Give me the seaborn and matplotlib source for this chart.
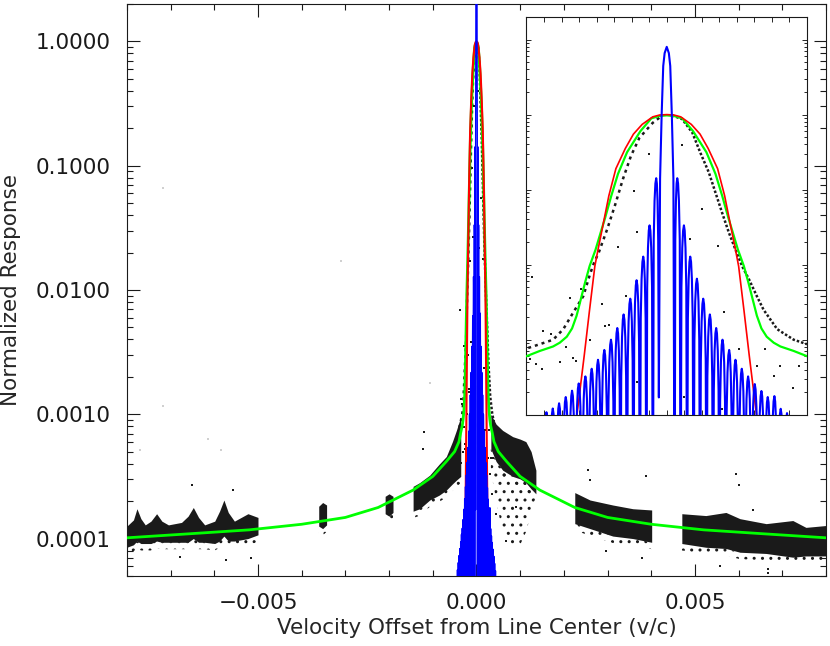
import numpy as np
import matplotlib
matplotlib.use("Agg")
import matplotlib.pyplot as plt
import seaborn as sns
from matplotlib.ticker import LogLocator, NullFormatter, MultipleLocator

# offsets near line centre are read in units of 1e-5 (v/c)
U = 1e-5

# green fit, log10 of normalized response
green_u = [-800, -650, -520, -400, -300, -225, -145, -100, -69, -50,
           -40, -36.2, -32.4, -30.5, -28.5, -27.0, -25.7, -23.3, -22.0, -20.3,
           -18.7, -17.6, -15.8, -13.9, -11.3, -7.5, -4.4, -2.2, 0, 2.2,
           4.4, 7.5, 11.3, 13.9, 15.8, 17.6, 18.7, 20.3, 22.0, 23.3,
           25.7, 27.0, 28.5, 30.5, 32.4, 36.2, 40, 50, 69, 100,
           145, 225, 300, 400, 520, 650, 800]
green_log = [-3.994, -3.96, -3.93, -3.885, -3.83, -3.75, -3.61, -3.50, -3.38, -3.30,
             -3.22, -3.15, -3.09, -3.04, -2.96, -2.85, -2.68, -2.24, -2.02, -1.80,
             -1.55, -1.38, -1.08, -0.79, -0.50, -0.22, -0.05, -0.02, -0.01, -0.02,
             -0.05, -0.22, -0.50, -0.79, -1.08, -1.38, -1.55, -1.80, -2.02, -2.24,
             -2.68, -2.85, -2.96, -3.04, -3.09, -3.15, -3.22, -3.30, -3.38, -3.50,
             -3.61, -3.75, -3.83, -3.885, -3.93, -3.96, -3.994]

# red fit
red_u = [-32, -28, -25.6, -23.5, -22.0, -20.5, -19.6, -18.3, -16.5, -14.5, -11.8, -9.5, -7.0, -4.0, -2.0,
         0, 2.0, 4.0, 7.0, 9.5, 11.8, 14.5, 16.5, 18.3, 19.6, 20.5, 22.0, 23.5, 25.6, 28, 32]
red_log = [-6.5, -5.0, -4.0, -3.2, -2.6, -2.02, -1.8, -1.5, -1.08, -0.72, -0.45, -0.26, -0.13, -0.03, -0.005,
           0.0, -0.005, -0.03, -0.13, -0.26, -0.45, -0.72, -1.08, -1.5, -1.8, -2.02, -2.6, -3.2, -4.0, -5.0, -6.5]

# blue response: central lobe plus side lobes
core_u = [-2.25, -1.9, -1.45, -1.0, -0.6, 0.0, 0.6, 1.0, 1.45, 1.9, 2.25]
core_y = [1.7e-4, 0.14, 1.0, 4.45, 6.6, 8.0, 6.6, 4.45, 1.0, 0.14, 1e-6]
lobe_u = [3.0, 4.9, 6.7, 8.6, 10.4, 12.3, 14.1, 15.9, 17.8, 19.6, 21.4, 23.2,
          25.1, 27.0, 28.8, 30.7, 32.5, 34.3, 36.1, 38.0, 39.8, 41.6, 43.5]
lobe_zero = [2.25, 3.95, 5.8, 7.65, 9.5, 11.35, 13.2, 15.0, 16.85, 18.7, 20.5, 22.3,
             24.15, 26.05, 27.9, 29.75, 31.6, 33.4, 35.2, 37.05, 38.9, 40.7, 42.55, 44.4]
lobe_left = [0.142, 0.0334, 0.0128, 0.0062, 0.00352, 0.00217, 0.00143, 0.00100, 0.00073, 0.00054,
             0.00041, 0.000324, 0.000261, 0.000209, 0.000172, 0.000142, 0.000121, 0.000108,
             0.000094, 0.000083, 0.000073, 0.000064, 0.000056]
lobe_right = [0.142, 0.0334, 0.0128, 0.0065, 0.00352, 0.00217, 0.00143, 0.00100, 0.00073, 0.00054,
              0.00041, 0.000324, 0.000256, 0.000207, 0.000172, 0.000177, 0.000120, 0.000105,
              0.000093, 0.000082, 0.000072, 0.000063, 0.000055]
ZERO = 1e-6
ARCH_F = [-0.75, -0.5, -0.25, 0.0, 0.25, 0.5, 0.75]
ARCH_G = [0.15, 0.5, 0.85, 1.0, 0.85, 0.5, 0.15]

# measured points: two tracks close to the core, log10
trackL_u = [-39.5, -36.2, -32.4, -29.5, -26.7, -23.8, -21.9, -20.7, -19.4, -17.0, -14.7, -12.5, -10.2, -7.8, -4.0, -1.5]
trackL_log = [-3.11, -3.06, -3.0, -2.86, -2.64, -2.42, -2.13, -1.97, -1.84, -1.53, -1.20, -0.86, -0.55, -0.31, -0.11, -0.02]
trackR_u = [1.5, 4.4, 7.3, 9.6, 12.0, 13.9, 15.8, 17.7, 19.6, 21.5, 23.5, 25.7, 27.6, 31.5, 36.2, 40]
trackR_log = [-0.01, -0.06, -0.24, -0.51, -0.77, -1.04, -1.31, -1.57, -1.80, -2.02, -2.2, -2.42, -2.6, -2.86, -3.0, -3.06]

core_pts_u = [-5.0, 4.3, 10.0, -9.4, -8.4, 6.7, 14.6, -13.8, -38.4, 16.2, -11.7, -18.5, -17.7, -16.4,
              -35.3, -28.6, -30.5, -37.2, -39.1, -35.5, -21.9, -26.7, -25.8, 28.1, 30.5, 32.4, 37.7,
              36.1, 20.5, 25.8, -8.6, -2.3, 4.8, 15.7, -24.5, -27.5, -33.0]
core_pts_log = [-0.52, -0.40, -1.26, -1.02, -1.57, -1.66, -1.75, -1.77, -2.16, -2.63, -2.42, -2.52, -2.82, -2.8,
                -2.88, -3.1, -3.3, -3.33, -3.26, -3.39, -3.0, -3.24, -3.28, -3.13, -3.48, -3.35, -3.35,
                -3.64, -3.13, -3.35, -3.57, -3.75, -3.77, -3.93, -2.33, -2.45, -2.92]

# dense clouds in the wings: (x in v/c, log10 upper, log10 lower)
cloudA_x = [-0.00800, -0.00785, -0.00777, -0.00768, -0.00758, -0.00745, -0.00732, -0.00720, -0.00705, -0.00675, -0.00660,
            -0.00648, -0.00636, -0.00622, -0.00599, -0.00588, -0.00578, -0.00568, -0.00554, -0.00523, -0.00500]
cloudA_hi = [-3.90, -3.85, -3.76, -3.84, -3.89, -3.86, -3.80, -3.86, -3.89, -3.87, -3.82,
             -3.75, -3.83, -3.89, -3.86, -3.78, -3.69, -3.79, -3.86, -3.80, -3.83]
cloudA_lo = [-4.07, -4.05, -4.02, -4.04, -4.04, -4.04, -4.02, -4.03, -4.03, -4.03, -4.03,
             -4.00, -4.03, -4.03, -4.04, -4.02, -3.98, -4.02, -4.02, -4.00, -3.97]
cloudB_x = [-0.00361, -0.00352, -0.00343]
cloudB_hi = [-3.74, -3.71, -3.73]
cloudB_lo = [-3.90, -3.92, -3.89]
cloudC_x = [-0.00209, -0.00200, -0.00191]
cloudC_hi = [-3.66, -3.64, -3.66]
cloudC_lo = [-3.80, -3.82, -3.79]
cloudD_x = [-0.00145, -0.00130, -0.00107, -0.00085, -0.00069, -0.00055, -0.00046, -0.00036]
cloudD_hi = [-3.58, -3.55, -3.49, -3.40, -3.34, -3.22, -3.13, -3.02]
cloudD_lo = [-3.78, -3.76, -3.69, -3.65, -3.61, -3.56, -3.53, -3.50]
cloudE_x = [0.00033, 0.00045, 0.00060, 0.00083, 0.00100, 0.00113, 0.00125, 0.00136]
cloudE_hi = [-3.00, -3.08, -3.13, -3.18, -3.20, -3.22, -3.30, -3.45]
cloudE_lo = [-3.28, -3.38, -3.45, -3.50, -3.52, -3.55, -3.60, -3.64]
sparseE_lo = [-3.45, -3.70, -3.95, -4.07, -4.05, -3.95, -3.80, -3.66]
cloudF_x = [0.00225, 0.00260, 0.00312, 0.00358, 0.00401]
cloudF_hi = [-3.63, -3.69, -3.73, -3.76, -3.77]
cloudF_lo = [-3.88, -3.92, -3.98, -4.00, -4.03]
cloudG_x = [0.00470, 0.00525, 0.00571, 0.00603, 0.00663, 0.00724, 0.00754, 0.00800]
cloudG_hi = [-3.80, -3.815, -3.79, -3.84, -3.88, -3.855, -3.91, -3.895]
cloudG_lo = [-4.04, -4.07, -4.08, -4.11, -4.12, -4.15, -4.14, -4.14]

stray_x = [0.00255, 0.00259, 0.00388, 0.00593, 0.00601, 0.00632, 0.00297, 0.00380, 0.00557, 0.00667, 0.00667,
           -0.00119, -0.00122, 0.00068, -0.00652, -0.00557, -0.00515, -0.00573, -0.00679, 0.00045, 0.00090, 0.00115]
stray_log = [-3.45, -3.53, -3.50, -3.48, -3.57, -3.77, -4.10, -4.16, -4.22, -4.245, -4.28,
             -3.14, -3.28, -4.02, -3.57, -3.61, -4.16, -4.17, -4.15, -3.80, -3.75, -3.35]
faint_x = [-0.00717, -0.0031, -0.00717, -0.0077, -0.00614, -0.00584, -0.00107, 0.0016]
faint_log = [-1.18, -1.77, -2.93, -3.29, -3.2, -3.29, -2.75, -2.1]


def lobe_train(heights):
    xs, ys = [], []
    for i, (p, h) in enumerate(zip(lobe_u, heights)):
        z0, z1 = lobe_zero[i], lobe_zero[i + 1]
        for f, g in zip(ARCH_F, ARCH_G):
            xs.append(p + f * ((p - z0) if f < 0 else (z1 - p)))
            ys.append(g * h)
        xs.append(z1)
        ys.append(ZERO)
    return xs, ys


lx, ly = lobe_train(lobe_left)
rx, ry = lobe_train(lobe_right)
blue_u = [-x for x in reversed(lx)] + core_u + rx
blue_y = list(reversed(ly)) + core_y + ry
blue_x = np.array(blue_u) * U

sns.set_theme(style="ticks")
plt.rcParams["font.family"] = ["DejaVu Sans"]
plt.rcParams["axes.linewidth"] = 0.8
plt.rcParams["hatch.linewidth"] = 1.0

GREEN = "#00ff00"
RED = "#ff0000"
BLUE = "#0000ff"

fig = plt.figure(figsize=(8.3, 6.46), dpi=100)
ax = fig.add_axes([0.1529, 0.1084, 0.8423, 0.8854])
ax.set_yscale("log")


def draw_curves(a, lw_scale, blue_lw):
    sns.lineplot(x=np.array(green_u) * U, y=10 ** np.array(green_log), ax=a, color=GREEN,
                 lw=2.0 * lw_scale, sort=False, estimator=None, zorder=3)
    sns.lineplot(x=np.array(red_u) * U, y=10 ** np.array(red_log), ax=a, color=RED,
                 lw=1.5 * lw_scale, sort=False, estimator=None, zorder=4)
    sns.lineplot(x=blue_x, y=blue_y, ax=a, color=BLUE, lw=blue_lw,
                 sort=False, estimator=None, zorder=5)


def draw_tracks(a, size):
    sns.lineplot(x=np.array(trackL_u) * U, y=10 ** np.array(trackL_log), ax=a, color="k",
                 lw=1.8, linestyle=(0, (1.2, 1.6)), sort=False, estimator=None, zorder=2)
    sns.lineplot(x=np.array(trackR_u) * U, y=10 ** np.array(trackR_log), ax=a, color="k",
                 lw=1.8, linestyle=(0, (1.0, 0.8)), sort=False, estimator=None, zorder=2)
    sns.scatterplot(x=np.array(core_pts_u) * U, y=10 ** np.array(core_pts_log), ax=a, color="k",
                    s=size, marker="s", linewidth=0, zorder=2)


# wing clouds
for cx, hi, lo in [(cloudA_x, cloudA_hi, cloudA_lo), (cloudB_x, cloudB_hi, cloudB_lo),
                   (cloudC_x, cloudC_hi, cloudC_lo), (cloudD_x, cloudD_hi, cloudD_lo),
                   (cloudE_x, cloudE_hi, cloudE_lo), (cloudF_x, cloudF_hi, cloudF_lo),
                   (cloudG_x, cloudG_hi, cloudG_lo)]:
    hi_v = 10 ** np.array(hi)
    lo_v = 10 ** np.array(lo)
    ax.fill_between(cx, lo_v, hi_v, color="k", lw=0, zorder=1)
    ax.fill_between(cx, lo_v * 0.88, lo_v, facecolor="none", edgecolor="k", hatch="..", lw=0, zorder=1)
ax.fill_between(cloudE_x, 10 ** np.array(sparseE_lo), 10 ** np.array(cloudE_lo), facecolor="none",
                edgecolor="k", hatch="..", lw=0, zorder=1)

sns.scatterplot(x=stray_x, y=10 ** np.array(stray_log), ax=ax, color="k", s=2.5, marker="s", linewidth=0, zorder=1)
sns.scatterplot(x=faint_x, y=10 ** np.array(faint_log), ax=ax, color="#d0d0d0", s=3, marker="s", linewidth=0, zorder=1)

draw_tracks(ax, 2.5)
draw_curves(ax, 1.0, 1.0)

ax.set_xlim(-0.008, 0.008)
ax.set_ylim(5e-5, 2.0)
ax.set_yticks([1e-4, 1e-3, 1e-2, 1e-1, 1.0])
ax.set_yticklabels(["0.0001", "0.0010", "0.0100", "0.1000", "1.0000"])
ax.yaxis.set_minor_locator(LogLocator(base=10, subs=range(2, 10)))
ax.yaxis.set_minor_formatter(NullFormatter())
ax.set_xticks([-0.005, 0.0, 0.005])
ax.set_xticklabels(["\u22120.005", "0.000", "0.005"])
ax.xaxis.set_minor_locator(MultipleLocator(0.001))
ax.tick_params(which="both", direction="in", top=True, right=True, colors="k", labelsize=15.5)
ax.tick_params(which="major", length=9, width=0.8, pad=12)
ax.tick_params(which="minor", length=4.5, width=0.8)
ax.set_xlabel("Velocity Offset from Line Center (v/c)", fontsize=15.5, labelpad=4)
ax.set_ylabel("Normalized Response", fontsize=15.5, labelpad=10)
for s in ax.spines.values():
    s.set_color("k")

# inset: zoom on the line core
axi = fig.add_axes([0.6343, 0.358, 0.338, 0.6157])
axi.set_facecolor("white")
axi.set_yscale("log")
draw_tracks(axi, 4)
draw_curves(axi, 0.8, 1.5)
axi.set_xlim(-40 * U, 40 * U)
axi.set_ylim(1e-4, 20)
axi.xaxis.set_major_locator(MultipleLocator(5 * U))
axi.yaxis.set_major_locator(LogLocator(base=10))
axi.yaxis.set_minor_locator(LogLocator(base=10, subs=range(2, 10)))
axi.tick_params(which="both", direction="in", top=True, right=True, labelleft=False, labelbottom=False)
axi.tick_params(which="major", length=3.5, width=0.7)
axi.tick_params(which="minor", length=2.2, width=0.7)
axi.set_xlabel("")
axi.set_ylabel("")
for s in axi.spines.values():
    s.set_color("k")
    s.set_linewidth(0.8)

fig.savefig("out.png", dpi=100)
